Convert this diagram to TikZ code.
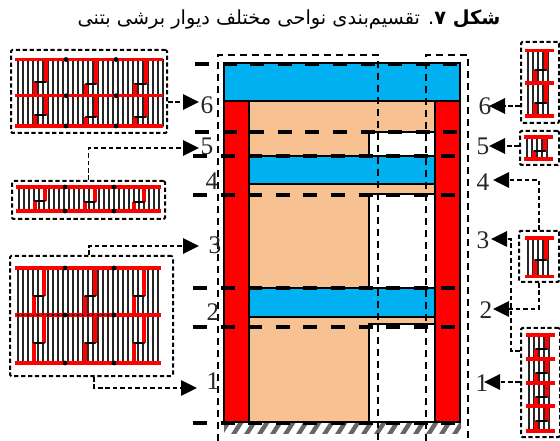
\documentclass[tikz,border=0pt]{standalone}
\usepackage{fontspec}
\usetikzlibrary{arrows.meta}
\setmainfont{Liberation Serif}
\newfontfamily\arabicfont[Script=Arabic]{DejaVu Sans}
\TeXXeTstate=1
\definecolor{wallred}{RGB}{255,0,0}
\definecolor{beamblue}{RGB}{0,176,240}
\definecolor{paneltan}{RGB}{248,193,145}
\tikzset{
  px/.style={line width=#1*0.75pt},
  partfill/.style={draw=black,px=1.4},
  cutline/.style={draw=black,px=4,dash pattern=on 10.5pt off 10.2pt},
  framedash/.style={draw=black,px=2,dash pattern=on 5.6pt off 3.4pt},
  panelbox/.style={draw=black,px=2,dash pattern=on 3.2pt off 2pt,fill=white,inner sep=0pt,rounded corners=1pt},
  conn/.style={draw=black,px=1.7,dash pattern=on 3.4pt off 2.2pt,-{Triangle[length=12pt,width=11.5pt]}},
  num/.style={font=\fontsize{19pt}{21pt}\selectfont,inner sep=0pt,text=black!85},
  column/.style={draw=black!85,px=1.4},
  chord/.style={draw=wallred,px=3.6},
  couple/.style={draw=wallred,px=3.4},
  linkbeam/.style={draw=black,px=1.4},
}
% #1 red left, #2 red right, #3 first column, #4 second column, #5 last column, #6 top, #7 bottom
\newcommand{\colsRed}[7]{%
  \foreach \cx in {#3,#4,...,#5}{
    \draw[column] (\cx,#6) -- (\cx,#7);
    \fill[black] (\cx,#6) circle[radius=0.9];
    \fill[black] (\cx,#7) circle[radius=0.9];
  }
}
\newcommand{\chordAt}[3]{\draw[chord] (#1,#3) -- (#2,#3);}
% #1 lower x, #2 upper x, #3 top chord, #4 bottom chord, #5 link y
\newcommand{\coupling}[5]{%
  \draw[couple] (#1,#4) -- (#1,#5);
  \draw[couple] (#2,#3) -- (#2,#5);
  \draw[linkbeam] (#1,#5) -- (#2,#5);
  \fill[black] (#1,#5) circle[radius=1] (#2,#5) circle[radius=1];
}
\begin{document}
\begin{tikzpicture}[x=0.75pt,y=-0.75pt]
\useasboundingbox (0,0) rectangle (560,441);
\fill[white] (0,0) rectangle (560,441);

% Title
\node[inner sep=0pt,font=\arabicfont\fontsize{14.5pt}{16pt}\selectfont] (title) at (289,20)
 {\beginR{\bfseries شکل ۷}. تقسیم‌بندی نواحی مختلف دیوار برشی بتنی\endR};

% Ground hatch
\begin{scope}
  \clip (224,423) rectangle (461,433);
  \foreach \hx in {226,239,...,470}
    \draw[draw=black!60,px=4.4] (\hx-6,435) -- (\hx+3,421);
\end{scope}

% Wall
\draw[partfill,fill=paneltan] (249,101) rectangle (435,422);
\draw[partfill,fill=white] (369,132) rectangle (435,156);
\draw[partfill,fill=white] (369,194) rectangle (435,288);
\draw[partfill,fill=white] (369,324) rectangle (435,422);
\draw[partfill,fill=beamblue] (249,156) rectangle (435,184);
\draw[partfill,fill=beamblue] (249,288) rectangle (435,317);
\draw[partfill,fill=wallred] (224,101) rectangle (249,422);
\draw[partfill,fill=wallred] (435,101) rectangle (460,422);
\draw[partfill,fill=beamblue] (224,63) rectangle (460,101);

% Thick cut lines
\foreach \cy/\cx in {64/195,132/195,156/193,195/193,288/193,327/193,423/193}
  \draw[cutline] (\cx,\cy) -- (461,\cy);

% Frame
\coordinate (frTL) at (218,55);
\coordinate (frTR) at (468,55);
\coordinate (frBL) at (218,441);
\coordinate (frBR) at (468,441);
\draw[framedash] (frBL) -- (frTL) -- (378,55) -- (378,441);
\draw[framedash] (426,441) -- (426,55) -- (frTR) -- (frBR);

% Left panels
\node[panelbox,minimum width=156*0.75pt,minimum height=83*0.75pt] (L6) at (89,91.5) {};
\colsRed{15}{163}{18}{23}{163}{59.5}{126}
\foreach \ry in {59.5,95.7,126} {\chordAt{15}{163}{\ry}}
\coupling{35}{46}{59.5}{95.7}{82}
\coupling{86}{96}{59.5}{95.7}{84}
\coupling{135}{146}{59.5}{95.7}{84}
\coupling{35}{46}{95.7}{126}{115}
\coupling{86}{96}{95.7}{126}{117}
\coupling{135}{146}{95.7}{126}{117}
\foreach \dx in {66,116} \foreach \dy in {59.5,95.7,126} {\fill (\dx,\dy) circle[radius=2.4];}

\node[panelbox,minimum width=153*0.75pt,minimum height=38*0.75pt] (L5) at (88.5,200) {};
\colsRed{16}{161}{19}{24}{161}{187}{211}
\foreach \ry in {187,211} {\chordAt{16}{161}{\ry}}
\coupling{35}{45}{187}{211}{201}
\coupling{85}{95}{187}{211}{202}
\coupling{134}{144}{187}{211}{202}
\foreach \dx in {65,114} \foreach \dy in {187,211} {\fill (\dx,\dy) circle[radius=2.4];}

\node[panelbox,minimum width=163*0.75pt,minimum height=120*0.75pt] (L3) at (91.5,316) {};
\colsRed{15}{161}{18}{23}{161}{268}{363}
\foreach \ry in {268,315,363} {\chordAt{15}{161}{\ry}}
\foreach \cx in {18,23,...,108} {\fill[black] (\cx,315) circle[radius=1.4];}
\coupling{34}{44}{268}{315}{296}
\coupling{85}{95}{268}{315}{296}
\coupling{134}{144}{268}{315}{296}
\coupling{34}{44}{315}{363}{343}
\coupling{85}{95}{315}{363}{343}
\coupling{134}{144}{315}{363}{343}
\foreach \dx in {65,114} \foreach \dy in {268,315,363} {\fill (\dx,\dy) circle[radius=2.4];}

% Right panels
\node[panelbox,minimum width=38*0.75pt,minimum height=81*0.75pt] (R6) at (540,82.5) {};
\foreach \cx in {528,533,...,552} {\draw[column] (\cx,50.5) -- (\cx,116);}
\foreach \ry in {50.5,83,116} {\chordAt{525}{554}{\ry}}
\coupling{535}{546}{50.5}{83}{70}
\coupling{535}{546}{83}{116}{103}

\node[panelbox,minimum width=39*0.75pt,minimum height=34*0.75pt] (R5) at (539.5,148) {};
\foreach \cx in {527,532,...,551} {\draw[column] (\cx,137) -- (\cx,159);}
\foreach \ry in {137,159} {\chordAt{524}{553}{\ry}}
\coupling{534}{545}{137}{159}{151}

\node[panelbox,minimum width=40*0.75pt,minimum height=51*0.75pt] (R3) at (539,256.5) {};
\foreach \cx in {528,533,...,552} {\draw[column] (\cx,238) -- (\cx,276.5);}
\foreach \ry in {238,276.5} {\chordAt{525}{554}{\ry}}
\coupling{535}{546}{238}{276.5}{260}

\node[panelbox,minimum width=39*0.75pt,minimum height=109*0.75pt] (R1) at (540.5,382.5) {};
\foreach \cx in {529,534,...,553} {\draw[column] (\cx,335) -- (\cx,431);}
\foreach \ry in {335,359,383,406,431} {\chordAt{526}{555}{\ry}}
\coupling{536}{547}{335}{359}{349}
\coupling{536}{547}{359}{383}{373}
\coupling{536}{547}{383}{406}{397}
\coupling{536}{547}{406}{431}{421}

% Number labels
\node[num] (n6) at (207,105) {6};
\node[num] (n5) at (207,146) {5};
\node[num] (n4) at (212,181) {4};
\node[num] (n3) at (215,245) {3};
\node[num] (n2) at (213,312) {2};
\node[num] (n1) at (213,381) {1};
\node[num] (m6) at (485,106) {6};
\node[num] (m5) at (483,146) {5};
\node[num] (m4) at (483,182) {4};
\node[num] (m3) at (483,240) {3};
\node[num] (m2) at (486,310) {2};
\node[num] (m1) at (482,383) {1};

% Connector ends
\coordinate (a6) at (199,102);
\coordinate (a5) at (199,148);
\coordinate (a3) at (199,246);
\coordinate (a1) at (197,388);
\coordinate (b6) at (489,106);
\coordinate (b5) at (489,146);
\coordinate (b4) at (493,180);
\coordinate (b3) at (491,239);
\coordinate (b2) at (493,309);
\coordinate (b1) at (484,382);
\coordinate (c3) at (511,351);

\draw[conn] (L6.east |- a6) -- (a6);
\draw[conn] (L5.north) -- (L5.north |- a5) -- (a5);
\draw[conn] ([xshift=-1.9pt]L3.north) -- ([xshift=-1.9pt]L3.north |- a3) -- (a3);
\draw[conn] ([xshift=1.9pt]L3.south) -- ([xshift=1.9pt]L3.south |- a1) -- (a1);
\draw[conn] (R6.west |- b6) -- (b6);
\draw[conn] (R5.west |- b5) -- (b5);
\draw[conn] (R3.north) -- (R3.north |- b4) -- (b4);
\draw[conn] (R1.west |- c3) -- (c3) -- (c3 |- b3) -- (b3);
\draw[conn] (R3.south) -- (R3.south |- b2) -- (b2);
\draw[conn] (R1.west |- b1) -- (b1);
\end{tikzpicture}
\end{document}
